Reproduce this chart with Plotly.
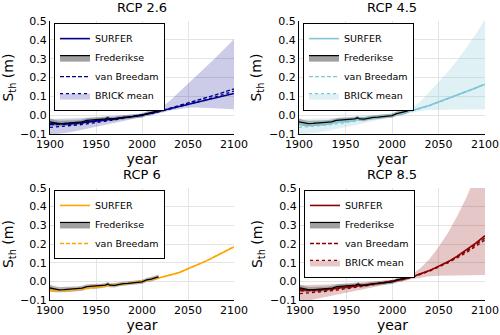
import plotly.graph_objects as go

years = list(range(1900, 2101, 10))

fred_years = [1900, 1905, 1910, 1915, 1920, 1925, 1930, 1935, 1940, 1945, 1950, 1955,
              1960, 1963, 1965, 1970, 1975, 1980, 1985, 1990, 1995, 2000, 2005, 2010,
              2015, 2018]
fred_mean = [-0.035, -0.042, -0.045, -0.044, -0.043, -0.042, -0.040, -0.036, -0.028, -0.026,
             -0.027, -0.024, -0.020, -0.014, -0.020, -0.021, -0.015, -0.012, -0.010, -0.006,
             -0.004, -0.002, 0.008, 0.012, 0.020, 0.025]
fred_err = [0.018, 0.016, 0.015, 0.014, 0.014, 0.013, 0.013, 0.013, 0.012, 0.012, 0.012, 0.012,
            0.011, 0.011, 0.011, 0.011, 0.011, 0.011, 0.011, 0.011, 0.011, 0.011, 0.011, 0.012,
            0.012, 0.012]

scenarios = ["RCP 2.6", "RCP 4.5", "RCP 6", "RCP 8.5"]

surfer = {
    "RCP 2.6": [-0.045, -0.047, -0.046, -0.042, -0.037, -0.032, -0.026, -0.020, -0.013, -0.007, 0.0,
                0.010, 0.022, 0.034, 0.046, 0.058, 0.069, 0.080, 0.092, 0.103, 0.115],
    "RCP 4.5": [-0.045, -0.047, -0.046, -0.042, -0.037, -0.032, -0.026, -0.020, -0.013, -0.007, 0.0,
                0.010, 0.022, 0.035, 0.051, 0.070, 0.088, 0.106, 0.125, 0.145, 0.165],
    "RCP 6": [-0.045, -0.047, -0.046, -0.042, -0.037, -0.032, -0.026, -0.020, -0.013, -0.007, 0.0,
              0.010, 0.021, 0.032, 0.047, 0.068, 0.088, 0.110, 0.135, 0.160, 0.185],
    "RCP 8.5": [-0.045, -0.047, -0.046, -0.042, -0.037, -0.032, -0.026, -0.020, -0.013, -0.007, 0.0,
                0.010, 0.022, 0.038, 0.058, 0.082, 0.105, 0.135, 0.170, 0.205, 0.245],
}

breedam = {
    "RCP 2.6": [-0.050, -0.050, -0.048, -0.044, -0.039, -0.033, -0.027, -0.020, -0.013, -0.007, 0.0,
                0.010, 0.022, 0.036, 0.050, 0.063, 0.078, 0.093, 0.108, 0.124, 0.140],
    "RCP 4.5": [-0.050, -0.050, -0.048, -0.044, -0.039, -0.033, -0.027, -0.020, -0.013, -0.007, 0.0,
                0.010, 0.022, 0.035, 0.051, 0.070, 0.088, 0.106, 0.125, 0.145, 0.166],
    "RCP 6": [-0.050, -0.050, -0.048, -0.044, -0.039, -0.033, -0.027, -0.020, -0.013, -0.007, 0.0,
              0.010, 0.021, 0.032, 0.047, 0.068, 0.088, 0.110, 0.135, 0.160, 0.186],
    "RCP 8.5": [-0.050, -0.050, -0.048, -0.044, -0.039, -0.033, -0.027, -0.020, -0.013, -0.007, 0.0,
                0.010, 0.022, 0.038, 0.058, 0.080, 0.103, 0.130, 0.162, 0.195, 0.232],
}

brick_mean = {
    "RCP 2.6": [-0.065, -0.062, -0.057, -0.052, -0.046, -0.040, -0.032, -0.024, -0.016, -0.008, 0.0,
                0.010, 0.020, 0.032, 0.045, 0.058, 0.070, 0.083, 0.097, 0.112, 0.128],
    "RCP 4.5": [-0.065, -0.062, -0.057, -0.052, -0.046, -0.040, -0.032, -0.024, -0.016, -0.008, 0.0,
                0.010, 0.021, 0.034, 0.050, 0.069, 0.087, 0.105, 0.124, 0.144, 0.164],
    "RCP 8.5": [-0.065, -0.062, -0.057, -0.052, -0.046, -0.040, -0.032, -0.024, -0.016, -0.008, 0.0,
                0.010, 0.021, 0.036, 0.055, 0.078, 0.100, 0.127, 0.155, 0.188, 0.222],
}

brick_low = {
    "RCP 2.6": [-0.105, -0.100, -0.092, -0.083, -0.074, -0.064, -0.053, -0.042, -0.031, -0.020, -0.010,
                0.000, 0.012, 0.024, 0.033, 0.039, 0.041, 0.040, 0.038, 0.035, 0.032],
    "RCP 4.5": [-0.105, -0.100, -0.092, -0.083, -0.074, -0.064, -0.053, -0.042, -0.031, -0.020, -0.010,
                0.000, 0.012, 0.022, 0.028, 0.031, 0.032, 0.032, 0.031, 0.031, 0.030],
    "RCP 8.5": [-0.105, -0.100, -0.092, -0.083, -0.074, -0.064, -0.053, -0.042, -0.031, -0.020, -0.010,
                0.000, 0.012, 0.022, 0.028, 0.031, 0.033, 0.034, 0.034, 0.035, 0.035],
}

brick_high = {
    "RCP 2.6": [-0.020, -0.020, -0.018, -0.016, -0.013, -0.010, -0.007, -0.003, 0.000, 0.003, 0.008,
                0.018, 0.035, 0.075, 0.120, 0.165, 0.210, 0.255, 0.305, 0.355, 0.405],
    "RCP 4.5": [-0.020, -0.020, -0.018, -0.016, -0.013, -0.010, -0.007, -0.003, 0.000, 0.003, 0.008,
                0.018, 0.035, 0.070, 0.120, 0.175, 0.230, 0.290, 0.360, 0.430, 0.510],
    "RCP 8.5": [-0.020, -0.020, -0.018, -0.016, -0.013, -0.010, -0.007, -0.003, 0.000, 0.003, 0.008,
                0.018, 0.035, 0.070, 0.120, 0.185, 0.260, 0.350, 0.450, 0.570, 0.700],
}

line_colors = {"RCP 2.6": "#00008B", "RCP 4.5": "#7EC8D6", "RCP 6": "#FFA500", "RCP 8.5": "#8B0000"}
band_colors = {
    "RCP 2.6": "rgba(0,0,139,0.2)",
    "RCP 4.5": "rgba(126,200,214,0.25)",
    "RCP 6": "rgba(255,165,0,0.25)",
    "RCP 8.5": "rgba(139,0,0,0.22)",
}

# panel domains (paper coords) for a 500x335 canvas
x_domains = [[0.100, 0.468], [0.598, 0.970], [0.100, 0.468], [0.600, 0.970]]
y_domains = [[0.600, 0.937], [0.600, 0.937], [0.104, 0.439], [0.104, 0.439]]

fig = go.Figure()
layout = dict(
    width=500,
    height=335,
    margin=dict(l=0, r=0, t=0, b=0, autoexpand=False),
    paper_bgcolor="white",
    plot_bgcolor="white",
    font=dict(family="DejaVu Sans", color="black", size=11),
    annotations=[],
)

for i, sc in enumerate(scenarios):
    n = i + 1
    xa = "x" if n == 1 else f"x{n}"
    ya = "y" if n == 1 else f"y{n}"
    lg = "legend" if n == 1 else f"legend{n}"
    col = line_colors[sc]
    band = band_colors[sc]

    # BRICK band (drawn first, underneath)
    if sc in brick_mean:
        fig.add_trace(go.Scatter(
            x=years + years[::-1], y=brick_high[sc] + brick_low[sc][::-1],
            fill="toself", fillcolor=band, line=dict(width=0), mode="lines",
            hoverinfo="skip", showlegend=False, xaxis=xa, yaxis=ya))

    # Frederikse uncertainty band
    up = [m + e for m, e in zip(fred_mean, fred_err)]
    lo = [m - e for m, e in zip(fred_mean, fred_err)]
    fig.add_trace(go.Scatter(
        x=fred_years + fred_years[::-1], y=up + lo[::-1],
        fill="toself", fillcolor="rgba(128,128,128,0.6)", line=dict(width=0), mode="lines",
        hoverinfo="skip", showlegend=False, xaxis=xa, yaxis=ya))

    fig.add_trace(go.Scatter(
        x=years, y=surfer[sc], mode="lines", name="SURFER",
        line=dict(color=col, width=1.6), legend=lg, legendrank=1, xaxis=xa, yaxis=ya))

    fig.add_trace(go.Scatter(
        x=years, y=breedam[sc], mode="lines", name="van Breedam",
        line=dict(color=col, width=1.4, dash="4px,2px"), legend=lg, legendrank=3,
        xaxis=xa, yaxis=ya))

    if sc in brick_mean:
        fig.add_trace(go.Scatter(
            x=years, y=brick_mean[sc], mode="lines", name="BRICK mean",
            line=dict(color=col, width=1.4, dash="dot"), showlegend=False, xaxis=xa, yaxis=ya))
        fig.add_trace(go.Scatter(
            x=[None], y=[None], mode="lines", name="BRICK mean", fill="toself",
            fillcolor=band, line=dict(color=col, width=1.2, dash="dot"),
            legend=lg, legendrank=4, xaxis=xa, yaxis=ya))

    fig.add_trace(go.Scatter(
        x=fred_years, y=fred_mean, mode="lines", line=dict(color="black", width=1.3),
        showlegend=False, hoverinfo="skip", xaxis=xa, yaxis=ya))
    fig.add_trace(go.Scatter(
        x=[None], y=[None], mode="lines", name="Frederikse", fill="toself",
        fillcolor="rgba(160,160,160,1)", line=dict(color="black", width=1.2),
        legend=lg, legendrank=2, xaxis=xa, yaxis=ya))

    axis_common = dict(
        showgrid=True, gridcolor="#E4E4E4", gridwidth=1,
        showline=True, linecolor="black", linewidth=1, zeroline=False,
        ticks="", tickfont=dict(size=11, color="black"), automargin=False,
    )
    layout["xaxis" if n == 1 else f"xaxis{n}"] = dict(
        axis_common, domain=x_domains[i], anchor=ya, range=[1900, 2100],
        tickvals=[1900, 1950, 2000, 2050, 2100],
        title=dict(text="year", font=dict(size=14), standoff=2),
    )
    layout["yaxis" if n == 1 else f"yaxis{n}"] = dict(
        axis_common, domain=y_domains[i], anchor=xa, range=[-0.1, 0.5],
        tickvals=[-0.1, 0.0, 0.1, 0.2, 0.3, 0.4, 0.5],
        ticktext=["\u22120.1", "0.0", "0.1", "0.2", "0.3", "0.4", "0.5"],
        title=dict(text="S<sub>th</sub> (m)", font=dict(size=14), standoff=4),
    )
    layout[lg] = dict(
        x=x_domains[i][0] + 0.008, y=y_domains[i][1] - 0.006, xanchor="left", yanchor="top",
        bgcolor="white", bordercolor="black", borderwidth=1,
        font=dict(size=9.5), tracegroupgap=0, itemwidth=30,
    )
    layout["annotations"].append(dict(
        text=sc, x=sum(x_domains[i]) / 2, y=y_domains[i][1] + 0.012,
        xref="paper", yref="paper", xanchor="center", yanchor="bottom",
        showarrow=False, font=dict(size=13),
    ))

fig.update_layout(**layout)
fig.write_html(
    "out.html",
    config={"displayModeBar": False},
    post_script="document.body.style.margin = '0px';",
)
